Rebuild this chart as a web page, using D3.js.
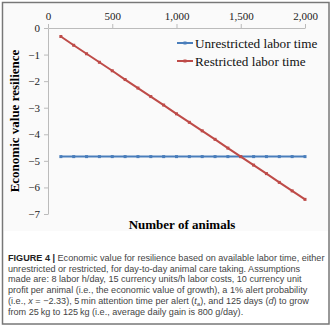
<!DOCTYPE html>
<html>
<head>
<meta charset="utf-8">
<script src="https://cdn.jsdelivr.net/npm/d3@7"></script>
<style>
  body { margin: 0; background: #fff; }
  svg { display: block; }
  .tick text { font-family: "Liberation Serif", serif; font-size: 11px; fill: #222; }
  .caption { font-family: "Liberation Sans", Arial, sans-serif; font-size: 9.1px; fill: #444; }
</style>
</head>
<body>
<svg width="333" height="328"></svg>
<script>
// number of animals
const animals = [100, 200, 300, 400, 500, 600, 700, 800, 900, 1000,
                 1100, 1200, 1300, 1400, 1500, 1600, 1700, 1800, 1900, 2000];
// economic value resilience
const unrestricted = [-4.84, -4.84, -4.84, -4.84, -4.84, -4.84, -4.84, -4.84, -4.84, -4.84,
                      -4.84, -4.84, -4.84, -4.84, -4.84, -4.84, -4.84, -4.84, -4.84, -4.84];
const restricted = [-0.32, -0.65, -0.97, -1.29, -1.61, -1.94, -2.26, -2.58, -2.90, -3.23,
                    -3.55, -3.87, -4.19, -4.52, -4.84, -5.16, -5.48, -5.81, -6.13, -6.45];
const xTicks = [0, 500, 1000, 1500, 2000];
const yTicks = [0, -1, -2, -3, -4, -5, -6, -7];
const seriesNames = ['Unrestricted labor time', 'Restricted labor time'];
const seriesColors = ['#4a7ebb', '#be4b48'];

const captionLines = [
    [['FIGURE 4 | ', 'b'], ['Economic value for resilience based on available labor time, either', '']],
    [['unrestricted or restricted, for day-to-day animal care taking. Assumptions', '']],
    [['made are: 8 labor h/day, 15 currency units/h labor costs, 10 currency unit', '']],
    [['profit per animal (i.e., the economic value of growth), a 1% alert probability', '']],
    [['(i.e., ', ''], ['x', 'i'], [' = \u22122.33), 5\u2009min attention time per alert (', ''], ['t', 'i'], ['a', 'sub'],
     ['), and 125 days (', 'up'], ['d', 'i'], [') to grow', '']],
    [['from 25\u2009kg to 125\u2009kg (i.e., average daily gain is 800 g/day).', '']]
];

const svg = d3.select('svg');

// outer frame + chart panel
svg.append('rect').attr('x', 4).attr('y', 4).attr('width', 324).attr('height', 227)
    .attr('fill', '#fafafa');
svg.append('rect').attr('x', 2.5).attr('y', 2.5).attr('width', 326.5).attr('height', 321.5)
    .attr('fill', 'none').attr('stroke', '#777').attr('stroke-width', 1.5);

const x = d3.scaleLinear().domain([0, 2000]).range([48, 305]);
const y = d3.scaleLinear().domain([-7, 0]).range([214, 28]);

const xAxis = svg.append('g')
    .attr('transform', `translate(0,${y(0)})`)
    .call(d3.axisTop(x).tickValues(xTicks).tickFormat(d3.format(',')).tickSize(4).tickSizeOuter(0));
xAxis.selectAll('text').attr('dy', '-0.1em');

const yAxis = svg.append('g')
    .attr('transform', `translate(${x(0)},0)`)
    .call(d3.axisLeft(y).tickValues(yTicks).tickFormat(d3.format('d')).tickSize(4).tickSizeOuter(0));
yAxis.selectAll('text').attr('x', -8);

svg.selectAll('.domain, .tick line').attr('stroke', '#bbb');

const line = d3.line().x((d, i) => x(animals[i])).y(d => y(d));

[unrestricted, restricted].forEach((vals, k) => {
    svg.append('path').datum(vals)
        .attr('d', line)
        .attr('fill', 'none')
        .attr('stroke', seriesColors[k])
        .attr('stroke-width', 2);
    svg.append('g').selectAll('rect').data(vals).join('rect')
        .attr('x', (d, i) => x(animals[i]) - 1.5)
        .attr('y', d => y(d) - 1.5)
        .attr('width', 3).attr('height', 3)
        .attr('fill', seriesColors[k]);
});

// legend
const legend = svg.append('g').selectAll('g').data(seriesNames).join('g')
    .attr('transform', (d, i) => `translate(177,${43 + i * 18})`);
legend.append('line').attr('x1', 0).attr('x2', 16)
    .attr('stroke', (d, i) => seriesColors[i]).attr('stroke-width', 2);
legend.append('rect').attr('x', 6.5).attr('y', -1.5).attr('width', 3).attr('height', 3)
    .attr('fill', (d, i) => seriesColors[i]);
legend.append('text').attr('x', 18).attr('y', 4.5)
    .style('font-family', '"Liberation Serif", serif').style('font-size', '13.2px').attr('fill', '#111')
    .text(d => d);

// axis titles
svg.append('text')
    .attr('x', 182).attr('y', 229)
    .attr('text-anchor', 'middle')
    .style('font-family', '"Liberation Serif", serif').style('font-size', '13px').style('font-weight', 'bold')
    .text('Number of animals');

svg.append('text')
    .attr('transform', `translate(19,${(y(0) + y(-7)) / 2}) rotate(-90)`)
    .attr('text-anchor', 'middle')
    .style('font-family', '"Liberation Serif", serif').style('font-size', '13px').style('font-weight', 'bold')
    .text('Economic value resilience');

// caption
const cap = svg.append('g');
captionLines.forEach((parts, i) => {
    const t = cap.append('text').attr('class', 'caption').attr('x', 8).attr('y', 261 + i * 10.7);
    parts.forEach(([s, st]) => {
        const sp = t.append('tspan').text(s);
        if (st === 'b') sp.style('font-weight', 'bold').attr('fill', '#222');
        if (st === 'i') sp.style('font-style', 'italic');
        if (st === 'sub') sp.style('font-style', 'italic').style('font-size', '6px').attr('dy', 2);
        if (st === 'up') sp.attr('dy', -2);
    });
});
</script>
</body>
</html>
